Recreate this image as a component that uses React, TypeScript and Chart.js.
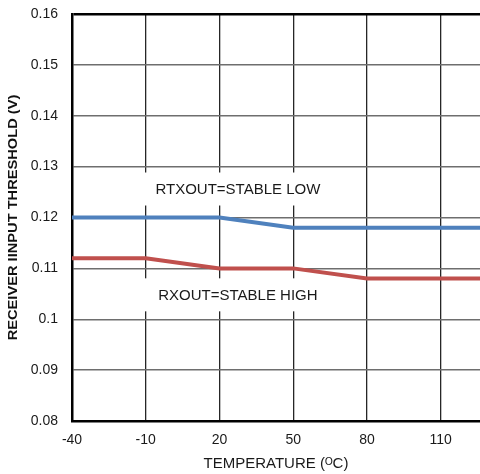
import React, { useEffect, useRef } from "react";
import { Chart, registerables } from "chart.js";

Chart.register(...registerables);

const temperatures = [-40, -10, 20, 50, 80, 110, 126];
const stableLow = [0.12, 0.12, 0.12, 0.118, 0.118, 0.118, 0.118];
const stableHigh = [0.112, 0.112, 0.11, 0.11, 0.108, 0.108, 0.108];
const xTickValues = [-40, -10, 20, 50, 80, 110];
const seriesLabels = ["RTXOUT=STABLE LOW", "RXOUT=STABLE HIGH"];
const labelAnchors = [
  { x: 27.5, y: 0.1256 },
  { x: 27.5, y: 0.1048 },
];
const yAxisTitle = "RECEIVER IINPUT THRESHOLD (V)";
const xAxisTitle = "TEMPERATURE (ᴼC)";

const FONT = "'Liberation Sans', Arial, sans-serif";

const labelPlugin = {
  id: "boxedLabels",
  beforeDatasetsDraw(chart: any) {
    const { ctx, scales } = chart;
    ctx.save();
    ctx.font = `15px ${FONT}`;
    ctx.textAlign = "center";
    ctx.textBaseline = "middle";
    seriesLabels.forEach((text, i) => {
      const px = scales.x.getPixelForValue(labelAnchors[i].x);
      const py = scales.y.getPixelForValue(labelAnchors[i].y);
      const w = ctx.measureText(text).width + 36;
      const h = 33;
      ctx.fillStyle = "#ffffff";
      ctx.fillRect(px - w / 2, py - h / 2, w, h);
      ctx.fillStyle = "#1a1a1a";
      ctx.fillText(text, px, py + 1);
    });
    ctx.restore();
  },
  afterDraw(chart: any) {
    const { ctx, chartArea } = chart;
    ctx.save();
    ctx.translate(13.5, (chartArea.top + chartArea.bottom) / 2);
    ctx.rotate(-Math.PI / 2);
    ctx.scale(1.22, 1);
    ctx.font = `bold 12px ${FONT}`;
    ctx.fillStyle = "#111";
    ctx.textAlign = "center";
    ctx.textBaseline = "middle";
    ctx.fillText(yAxisTitle, 0, 0);
    ctx.restore();
  },
};

export default function App() {
  const canvasRef = useRef<HTMLCanvasElement | null>(null);

  useEffect(() => {
    document.body.style.margin = "0";
    const canvas = canvasRef.current;
    if (!canvas) return;
    const chart = new Chart(canvas, {
      type: "line",
      data: {
        datasets: [
          {
            label: seriesLabels[0],
            data: temperatures.map((t, i) => ({ x: t, y: stableLow[i] })),
            borderColor: "#4F81BD",
            borderWidth: 4,
            pointRadius: 0,
            tension: 0,
          },
          {
            label: seriesLabels[1],
            data: temperatures.map((t, i) => ({ x: t, y: stableHigh[i] })),
            borderColor: "#C0504D",
            borderWidth: 4,
            pointRadius: 0,
            tension: 0,
          },
        ],
      },
      options: {
        animation: false,
        responsive: false,
        maintainAspectRatio: false,
        layout: { padding: { top: 14, right: 0, left: 0, bottom: 0 } },
        plugins: {
          legend: { display: false },
          tooltip: { enabled: false },
        },
        scales: {
          x: {
            type: "linear",
            min: -40,
            max: 126,
            afterBuildTicks: (scale: any) => {
              scale.ticks = xTickValues.map((v) => ({ value: v }));
            },
            afterFit: (scale: any) => {
              scale.height = 53;
              scale.paddingLeft = 0;
              scale.paddingRight = 0;
            },
            grid: {
              color: "#262626",
              lineWidth: 1.3,
              drawTicks: false,
            },
            border: { color: "#000", width: 2.5 },
            ticks: {
              padding: 11,
              color: "#1a1a1a",
              font: { family: FONT, size: 14 },
              maxRotation: 0,
              callback: (v: any) => String(v),
            },
            title: {
              display: true,
              text: xAxisTitle,
              color: "#1a1a1a",
              font: { family: FONT, size: 15 },
              padding: { top: 0, bottom: 1 },
            },
          },
          y: {
            min: 0.08,
            max: 0.16,
            afterFit: (scale: any) => {
              scale.width = 72;
              scale.paddingTop = 0;
              scale.paddingBottom = 0;
            },
            grid: {
              color: (c: any) =>
                c.tick && Math.abs(c.tick.value - 0.16) < 1e-6 ? "#000" : "#6e6e6e",
              lineWidth: (c: any) =>
                c.tick && Math.abs(c.tick.value - 0.16) < 1e-6 ? 2.5 : 1.5,
              drawTicks: false,
            },
            border: { color: "#000", width: 2.5 },
            ticks: {
              stepSize: 0.01,
              padding: 14,
              color: "#1a1a1a",
              font: { family: FONT, size: 14 },
              callback: (v: any) => String(Number(Number(v).toFixed(2))),
            },
          },
        },
      },
      plugins: [labelPlugin],
    } as any);
    return () => chart.destroy();
  }, []);

  return (
    <div style={{ width: 480, height: 474 }}>
      <canvas ref={canvasRef} width={480} height={474} />
    </div>
  );
}
